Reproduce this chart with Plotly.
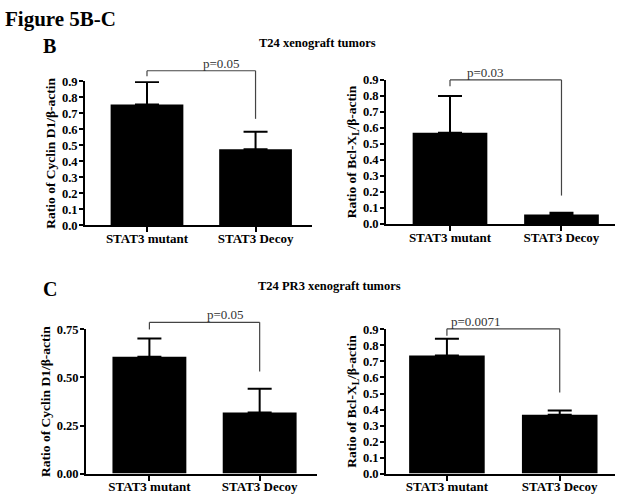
import plotly.graph_objects as go

categories = ["STAT3 mutant", "STAT3 Decoy"]

# Panel B (T24 xenograft tumors)
b_cyclin_vals = [0.755, 0.475]
b_cyclin_err = [0.14, 0.11]
b_bcl_vals = [0.57, 0.06]
b_bcl_err = [0.23, 0.01]
# Panel C (T24 PR3 xenograft tumors)
c_cyclin_vals = [0.608, 0.318]
c_cyclin_err = [0.095, 0.124]
c_bcl_vals = [0.737, 0.368]
c_bcl_err = [0.105, 0.026]

p_labels = ["p=0.05", "p=0.03", "p=0.05", "p=0.0071"]
# bracket: [top level, left leg bottom, right leg bottom]
brackets = [
    [0.965, 0.93, 0.665],
    [0.90, 0.86, 0.178],
    [0.787, 0.75, 0.531],
    [0.904, 0.86, 0.506],
]

panels = [
    dict(vals=b_cyclin_vals, err=b_cyclin_err, ytitle="Ratio of Cyclin D1/β-actin",
         yrange=[0, 0.9], dtick=0.1, fmt=".1f",
         xdom=[85/623, 312/623], ydom=[1-224.7/502, 1-76.3/502], xr=[-0.571, 1.52]),
    dict(vals=b_bcl_vals, err=b_bcl_err, ytitle="Ratio of Bcl-X<sub>L</sub>/β-actin",
         yrange=[0, 0.9], dtick=0.1, fmt=".1f",
         xdom=[386/623, 615/623], ydom=[1-223.3/502, 1-75/502], xr=[-0.574, 1.48]),
    dict(vals=c_cyclin_vals, err=c_cyclin_err, ytitle="Ratio of Cyclin D1/β-actin",
         yrange=[0, 0.75], dtick=0.25, fmt=".2f",
         xdom=[86/623, 317/623], ydom=[1-480/502, 1-331.7/502], xr=[-0.575, 1.52]),
    dict(vals=c_bcl_vals, err=c_bcl_err, ytitle="Ratio of Bcl-X<sub>L</sub>/β-actin",
         yrange=[0, 0.9], dtick=0.1, fmt=".1f",
         xdom=[386/623, 615/623], ydom=[1-480/502, 1-331.7/502], xr=[-0.54, 1.49]),
]

FONT = "Liberation Serif"
fig = go.Figure()
layout = dict(
    width=623, height=502, margin=dict(l=0, r=0, t=0, b=0),
    paper_bgcolor="white", plot_bgcolor="white", showlegend=False,
    font=dict(family=FONT, color="black"),
)
shapes = []
annotations = []
xpos = list(range(len(categories)))


def to_paper(v, rng, dom):
    return dom[0] + (v - rng[0]) / (rng[1] - rng[0]) * (dom[1] - dom[0])


for i, p in enumerate(panels):
    n = "" if i == 0 else str(i + 1)
    xa, ya = "x" + n, "y" + n
    fig.add_trace(go.Bar(
        x=xpos, y=p["vals"], xaxis=xa, yaxis=ya, width=0.67,
        marker=dict(color="black", line=dict(width=0)),
        error_y=dict(type="data", symmetric=False, array=p["err"],
                     arrayminus=[0] * len(p["err"]), color="black",
                     thickness=2, width=12),
    ))
    layout["xaxis" + n] = dict(
        domain=p["xdom"], range=p["xr"], anchor=ya, tickvals=xpos, ticktext=categories,
        showline=True, linecolor="black", linewidth=2, ticks="outside", ticklen=5,
        tickwidth=2, tickcolor="black", showgrid=False, zeroline=False,
        ticklabelstandoff=-5,
        tickfont=dict(family=FONT, size=13, color="black", weight="bold"),
    )
    layout["yaxis" + n] = dict(
        domain=p["ydom"], range=p["yrange"], anchor=xa, dtick=p["dtick"],
        tickformat=p["fmt"], showline=True, linecolor="black", linewidth=2,
        ticks="outside", ticklen=4, tickwidth=2, tickcolor="black",
        showgrid=False, zeroline=False, ticklabelstandoff=-1,
        tickfont=dict(family=FONT, size=12.5, color="black", weight="bold"),
        title=dict(text=p["ytitle"], standoff=3,
                   font=dict(family=FONT, size=13.5, color="black", weight="bold")),
    )
    top, lb, rb = brackets[i]
    xp = lambda v: to_paper(v, p["xr"], p["xdom"])
    yp = lambda v: to_paper(v, p["yrange"], p["ydom"])
    for (x0, y0, x1, y1) in [(0, lb, 0, top), (0, top, 1, top), (1, top, 1, rb)]:
        shapes.append(dict(type="line", xref="paper", yref="paper",
                           x0=xp(x0), y0=yp(y0), x1=xp(x1), y1=yp(y1),
                           line=dict(color="#444444", width=1.2)))
    annotations.append(dict(text=p_labels[i], xref="paper", yref="paper", x=xp(0.5), y=yp(top),
                            yanchor="bottom", showarrow=False, yshift=-2,
                            font=dict(family=FONT, size=13, color="#333333")))

annotations += [
    dict(text="<b>Figure 5B-C</b>", xref="paper", yref="paper", x=3/623, y=1-12.5/502,
         xanchor="left", yanchor="middle", showarrow=False,
         font=dict(family=FONT, size=21, color="black")),
    dict(text="<b>B</b>", xref="paper", yref="paper", x=41/623, y=1-40/502,
         xanchor="left", yanchor="middle", showarrow=False,
         font=dict(family=FONT, size=20, color="black")),
    dict(text="<b>T24 xenograft tumors</b>", xref="paper", yref="paper", x=317/623, y=1-37/502,
         xanchor="center", yanchor="middle", showarrow=False,
         font=dict(family=FONT, size=12.5, color="black")),
    dict(text="<b>C</b>", xref="paper", yref="paper", x=41/623, y=1-290/502,
         xanchor="left", yanchor="middle", showarrow=False,
         font=dict(family=FONT, size=20, color="black")),
    dict(text="<b>T24 PR3 xenograft tumors</b>", xref="paper", yref="paper", x=329/623, y=1-287/502,
         xanchor="center", yanchor="middle", showarrow=False,
         font=dict(family=FONT, size=12.5, color="black")),
]
layout["shapes"] = shapes
layout["annotations"] = annotations
fig.update_layout(**layout)
fig.write_html("out.html", config={"displayModeBar": False},
               post_script="document.body.style.margin='0';document.body.style.padding='0';")
